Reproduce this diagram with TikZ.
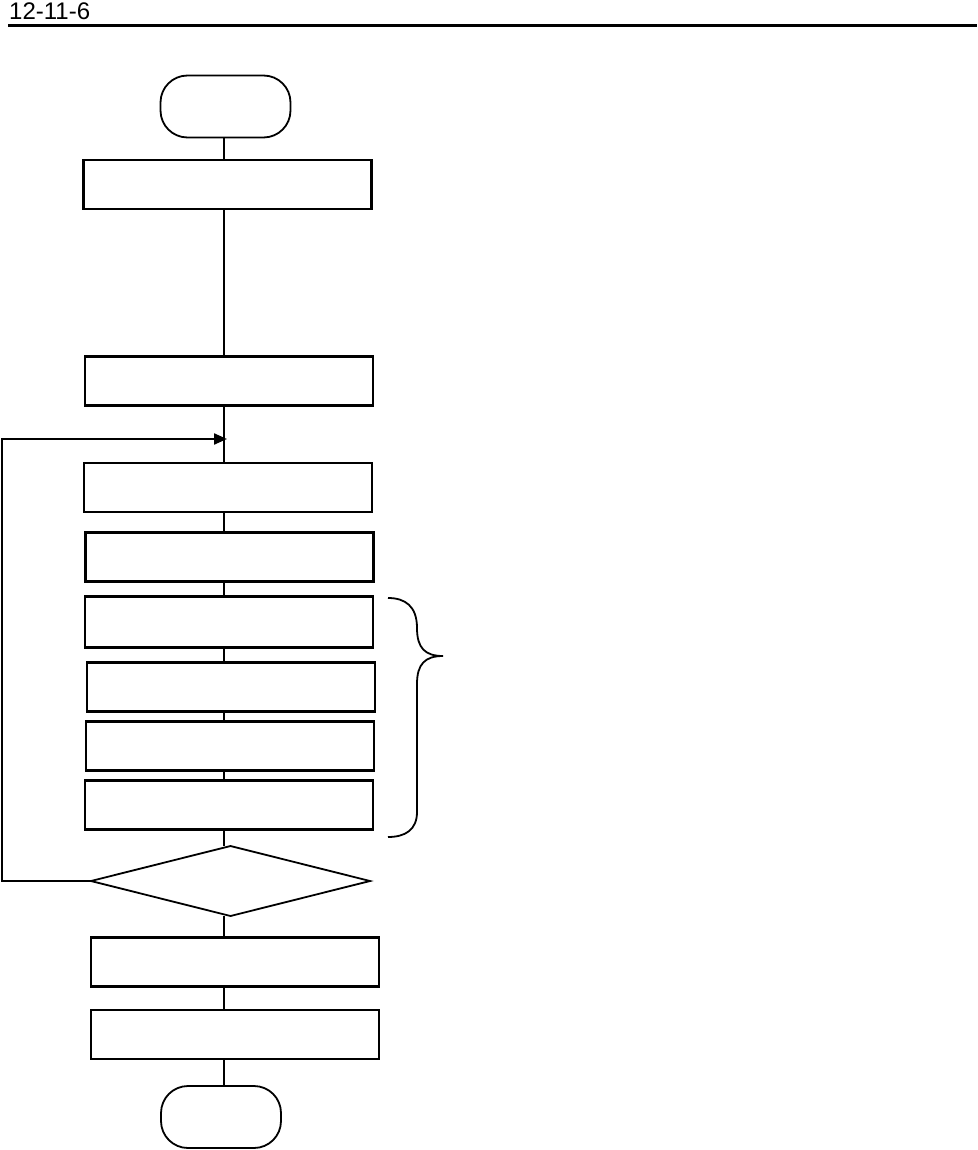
\documentclass[tikz,border=0pt]{standalone}
\usepackage{fontspec}
\setmainfont{Liberation Sans}
\usetikzlibrary{shapes.geometric,arrows.meta,calc}
\begin{document}
\begin{tikzpicture}[x=1pt,y=-1pt,
  stepbox/.style={draw,line width=2.4pt,minimum width=288pt,minimum height=49pt,inner sep=0pt,outer sep=0pt},
  term/.style={draw,line width=1.8pt,rounded corners=27pt,minimum width=130pt,minimum height=62pt,inner sep=0pt,outer sep=0pt},
  decision/.style={draw,diamond,line width=1.8pt,minimum width=279pt,minimum height=70pt,inner sep=0pt,outer sep=0pt},
  conn/.style={line width=1.2pt},
  loopline/.style={line width=2.2pt},
  hdr/.style={font=\fontsize{24}{27}\selectfont,anchor=base west,inner sep=0pt}]
\useasboundingbox (0,0) rectangle (977,1150);
% header
\node[hdr] (title) at (9,20) {12-11-6};
\coordinate (hl) at (8,25.5);
\coordinate (hr) at (977,25.5);
\draw[line width=3pt] (hl) -- (hr);
% spine
\coordinate (sp) at (224,0);
\coordinate (lx) at (2,0);
% nodes
\node[term] (start) at (225.5,106.5) {};
\node[stepbox] (b1) at (227.5,184.5) {};
\node[stepbox] (b2) at (229,381) {};
\node[stepbox] (b3) at (228,487.5) {};
\node[stepbox] (b4) at (229.5,557) {};
\node[stepbox,minimum height=51pt] (b5) at (229,622) {};
\node[stepbox] (b6) at (231,687) {};
\node[stepbox] (b7) at (230,746) {};
\node[stepbox] (b8) at (229,805) {};
\node[decision] (d) at (230.5,881) {};
\node[stepbox] (b9) at (235,962) {};
\node[stepbox] (b10) at (235,1034.5) {};
\node[term,minimum width=120pt] (end) at (221,1117) {};
\coordinate (j) at (227,439);
% connectors
\draw[conn] (start.south -| sp) -- (b1.north -| sp);
\draw[conn] (b1.south -| sp) -- (b2.north -| sp);
\draw[conn] (b2.south -| sp) -- (b3.north -| sp);
\draw[conn] (b3.south -| sp) -- (b4.north -| sp);
\draw[conn] (b4.south -| sp) -- (b5.north -| sp);
\draw[conn] (b5.south -| sp) -- (b6.north -| sp);
\draw[conn] (b6.south -| sp) -- (b7.north -| sp);
\draw[conn] (b7.south -| sp) -- (b8.north -| sp);
\draw[conn] (b8.south -| sp) -- (d.north -| sp);
\draw[conn] (d.south -| sp) -- (b9.north -| sp);
\draw[conn] (b9.south -| sp) -- (b10.north -| sp);
\draw[conn] (b10.south -| sp) -- (end.north -| sp);
% loop back
\draw[loopline,-{Triangle[length=13pt,width=11pt]}] (d.west) -- (d.west -| lx) |- (j);
% brace
\coordinate (bt) at (388,598);
\coordinate (bk) at (443,656);
\coordinate (bb) at (388,837);
\draw[line width=1.8pt] (bt) .. controls (405,598) and (417,606) .. (417,628)
  .. controls (417,648) and (425,656) .. (bk)
  .. controls (425,656) and (417,664) .. (417,684)
  -- (417,812) .. controls (417,830) and (405,837) .. (bb);
\end{tikzpicture}
\end{document}
